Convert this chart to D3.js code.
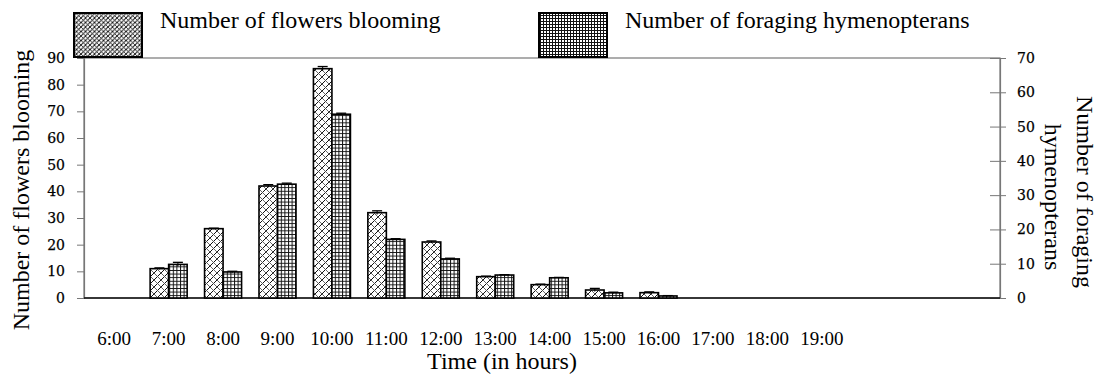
<!DOCTYPE html>
<html>
<head>
<meta charset="utf-8">
<script src="https://cdn.jsdelivr.net/npm/d3@7"></script>
<style>
	body { margin: 0; background: #fff; }
	text { font-family: "Liberation Serif", "Times New Roman", serif; fill: #000; }
	.tick-num { font-family: "DejaVu Serif", serif; font-size: 14px; stroke: #000; stroke-width: 0.25px; }
</style>
</head>
<body>
<div id="chart-area"></div>
<script>
/* Data */
const hours = ['6:00', '7:00', '8:00', '9:00', '10:00', '11:00', '12:00', '13:00', '14:00', '15:00', '16:00', '17:00', '18:00', '19:00']
const flowers = [0, 11, 26, 42, 86, 32, 21, 8, 5, 3, 2, 0, 0, 0]
const flowersErr = [0, 0.3, 0.2, 0.5, 0.8, 0.7, 0.4, 0.2, 0.2, 0.6, 0.3, 0, 0, 0]
const hymenopterans = [0, 9.8, 7.6, 33.2, 53.6, 17.1, 11.4, 6.7, 5.9, 1.5, 0.6, 0, 0, 0]
const hymenopteransErr = [0, 0.6, 0.2, 0.3, 0.3, 0.2, 0.2, 0.1, 0.1, 0.2, 0.1, 0, 0, 0]
const leftTicks = [0, 10, 20, 30, 40, 50, 60, 70, 80, 90]
const rightTicks = [0, 10, 20, 30, 40, 50, 60, 70]

/* Canvas */
const CANVAS_WIDTH = 1100
const CANVAS_HEIGHT = 378
const plot = { left: 84, right: 1000, top: 58, bottom: 298 }

const $svg = d3.select('#chart-area')
	.append('svg')
	.attr('width', CANVAS_WIDTH)
	.attr('height', CANVAS_HEIGHT)

/* Patterns */
const $defs = $svg.append('defs')

function hatchPattern(id, size, back, backWidth) {
	const $p = $defs.append('pattern')
		.attr('id', id)
		.attr('patternUnits', 'userSpaceOnUse')
		.attr('width', size)
		.attr('height', size)
	$p.append('rect').attr('width', size).attr('height', size).attr('fill', '#fff')
	$p.append('path')
		.attr('d', `M0,${size} L${size},0 M${-size / 2},${size / 2} L${size / 2},${-size / 2} M${size / 2},${size * 1.5} L${size * 1.5},${size / 2}`)
		.attr('stroke', '#111').attr('stroke-width', 1)
	$p.append('path')
		.attr('d', `M0,0 L${size},${size}`)
		.attr('stroke', back).attr('stroke-width', backWidth)
}

function gridPattern(id, size) {
	const $p = $defs.append('pattern')
		.attr('id', id)
		.attr('patternUnits', 'userSpaceOnUse')
		.attr('width', size)
		.attr('height', size)
	$p.append('rect').attr('width', size).attr('height', size).attr('fill', '#fff')
	$p.append('path')
		.attr('d', `M0,0.5 L${size},0.5 M0.5,0 L0.5,${size}`)
		.attr('stroke', '#111').attr('stroke-width', 1)
}

hatchPattern('flowerFill', 7, '#555', 0.9)
hatchPattern('flowerLegend', 4.5, '#222', 0.9)
gridPattern('hymFill', 3.6)
gridPattern('hymLegend', 3)

/* Scales */
const xScale = d3.scaleBand()
	.domain(hours)
	.range([87, 849])
	.paddingInner(0.32)
	.paddingOuter(0.16)

const subScale = d3.scaleBand()
	.domain(['flowers', 'hym'])
	.range([0, xScale.bandwidth()])

const yLeft = d3.scaleLinear().domain([0, 90]).range([plot.bottom, plot.top])
const yRight = d3.scaleLinear().domain([0, 70]).range([plot.bottom, plot.top])

/* Frame */
$svg.append('rect')
	.attr('x', plot.left)
	.attr('y', plot.top)
	.attr('width', plot.right - plot.left)
	.attr('height', plot.bottom - plot.top)
	.attr('fill', 'none')
	.attr('stroke', '#777')
	.attr('stroke-width', 1.2)

/* Axes */
const $leftAxis = $svg.append('g')
	.attr('transform', `translate(${plot.left},0)`)
	.call(d3.axisLeft(yLeft).tickValues(leftTicks).tickSize(7).tickPadding(12))
$leftAxis.select('.domain').attr('stroke', '#777').attr('stroke-width', 1.2)
$leftAxis.selectAll('.tick line').attr('stroke', '#777')
$leftAxis.selectAll('.tick text').attr('class', 'tick-num').attr('fill', '#000')

const $rightAxis = $svg.append('g')
	.attr('transform', `translate(${plot.right},0)`)
	.call(d3.axisRight(yRight).tickValues(rightTicks).tickSize(6).tickPadding(11))
$rightAxis.select('.domain').attr('stroke', '#777').attr('stroke-width', 1.2)
$rightAxis.selectAll('.tick line').attr('stroke', '#777').attr('x1', -10)
$rightAxis.selectAll('.tick text').attr('class', 'tick-num').attr('fill', '#000')

const $xAxis = $svg.append('g')
	.attr('transform', `translate(0,${plot.bottom})`)
	.call(d3.axisBottom(xScale).tickSize(0).tickPadding(34))
$xAxis.select('.domain').remove()
$xAxis.selectAll('.tick text')
	.attr('font-size', 19)
	.attr('font-family', '"Liberation Serif", serif')
	.attr('fill', '#000')

$svg.append('line')
	.attr('x1', plot.left).attr('x2', plot.right)
	.attr('y1', plot.bottom).attr('y2', plot.bottom)
	.attr('stroke', '#111').attr('stroke-width', 1.3)

/* Bars */
const rows = hours.map((h, i) => ({
	hour: h,
	flowers: flowers[i],
	flowersErr: flowersErr[i],
	hym: hymenopterans[i],
	hymErr: hymenopteransErr[i]
}))

const $bars = $svg.append('g')

$bars.selectAll('.bar-flowers')
	.data(rows.filter(d => d.flowers > 0))
	.enter()
	.append('rect')
	.attr('class', 'bar-flowers')
	.attr('x', d => xScale(d.hour) + subScale('flowers'))
	.attr('y', d => yLeft(d.flowers))
	.attr('width', subScale.bandwidth())
	.attr('height', d => yLeft(0) - yLeft(d.flowers))
	.attr('fill', 'url(#flowerFill)')
	.attr('stroke', '#000')
	.attr('stroke-width', 1.6)

$bars.selectAll('.bar-hym')
	.data(rows.filter(d => d.hym > 0))
	.enter()
	.append('rect')
	.attr('class', 'bar-hym')
	.attr('x', d => xScale(d.hour) + subScale('hym'))
	.attr('y', d => yRight(d.hym))
	.attr('width', subScale.bandwidth())
	.attr('height', d => yRight(0) - yRight(d.hym))
	.attr('fill', 'url(#hymFill)')
	.attr('stroke', '#000')
	.attr('stroke-width', 1.6)

/* Error bars */
function errorBars(cls, key, errKey, yScale) {
	const data = rows.filter(d => d[errKey] > 0)
	const cx = d => xScale(d.hour) + subScale(key) + subScale.bandwidth() / 2
	$bars.selectAll('.' + cls + '-v')
		.data(data)
		.enter()
		.append('line')
		.attr('x1', cx).attr('x2', cx)
		.attr('y1', d => yScale(d[key] - d[errKey]))
		.attr('y2', d => yScale(d[key] + d[errKey]))
		.attr('stroke', '#000').attr('stroke-width', 1)
	$bars.selectAll('.' + cls + '-cap')
		.data(data)
		.enter()
		.append('line')
		.attr('x1', d => cx(d) - 5).attr('x2', d => cx(d) + 5)
		.attr('y1', d => yScale(d[key] + d[errKey]))
		.attr('y2', d => yScale(d[key] + d[errKey]))
		.attr('stroke', '#000').attr('stroke-width', 1.3)
}
errorBars('err-flowers', 'flowers', 'flowersErr', yLeft)
errorBars('err-hym', 'hym', 'hymErr', yRight)

/* Legend */
const legendItems = [
	{ label: 'Number of flowers blooming', fill: 'url(#flowerLegend)', x: 74 },
	{ label: 'Number of foraging hymenopterans', fill: 'url(#hymLegend)', x: 539 }
]
const $legend = $svg.append('g')
$legend.selectAll('rect')
	.data(legendItems)
	.enter()
	.append('rect')
	.attr('x', d => d.x)
	.attr('y', 13)
	.attr('width', 68)
	.attr('height', 44)
	.attr('fill', d => d.fill)
	.attr('stroke', '#000')
	.attr('stroke-width', 2)
$legend.selectAll('text')
	.data(legendItems)
	.enter()
	.append('text')
	.attr('x', d => d.x + 86)
	.attr('y', 28)
	.attr('font-size', 24)
	.text(d => d.label)

/* Axis titles */
$svg.append('text')
	.attr('transform', 'translate(502,369)')
	.attr('text-anchor', 'middle')
	.attr('font-size', 24)
	.text('Time (in hours)')

$svg.append('text')
	.attr('transform', 'translate(29,190) rotate(-90)')
	.attr('text-anchor', 'middle')
	.attr('font-size', 24)
	.text('Number of flowers blooming')

$svg.append('text')
	.attr('transform', 'translate(1077,192) rotate(90)')
	.attr('text-anchor', 'middle')
	.attr('font-size', 24)
	.text('Number of foraging')

$svg.append('text')
	.attr('transform', 'translate(1045,197) rotate(90)')
	.attr('text-anchor', 'middle')
	.attr('font-size', 24)
	.text('hymenopterans')
</script>
</body>
</html>
